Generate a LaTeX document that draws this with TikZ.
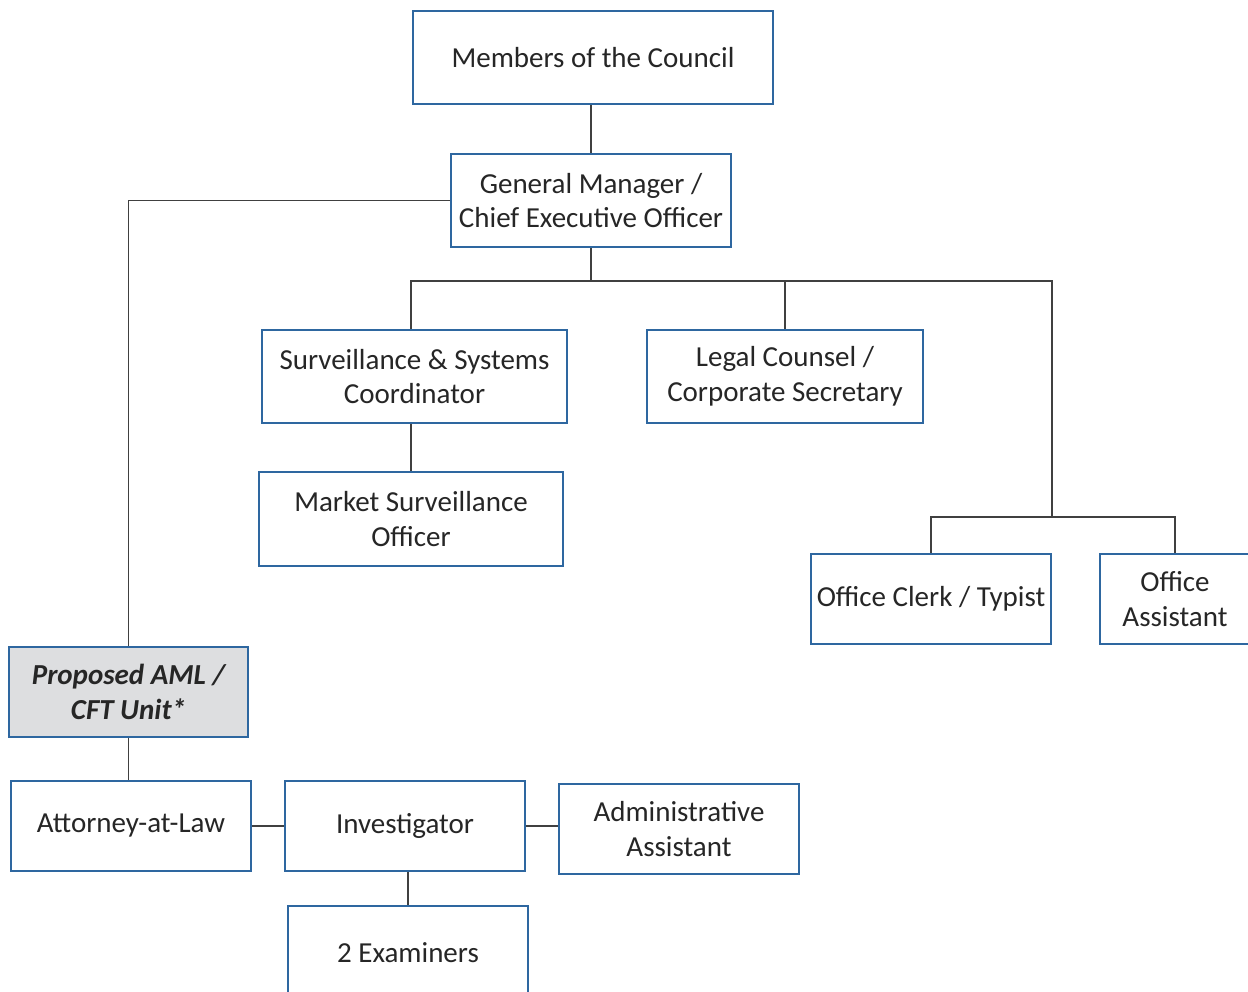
\documentclass[tikz,border=0pt]{standalone}
\usepackage{fontspec}
\setmainfont{Carlito}
\usepackage{xcolor}
\usepackage{tikz}
\usetikzlibrary{positioning}
\definecolor{boxblue}{RGB}{46,103,160}
\definecolor{linkgray}{RGB}{64,64,64}
\definecolor{unitgray}{RGB}{221,222,224}
\tikzset{
  box/.style={draw=boxblue, line width=1.4pt, fill=white, align=center,
    font=\fontsize{16.5}{19.8}\selectfont, text=black!85, inner sep=2pt},
  unit/.style={box, fill=unitgray, font=\fontsize{16.5}{19.8}\selectfont\bfseries\itshape},
  link/.style={draw=linkgray, line width=0.8pt},
}
\begin{document}
\begin{tikzpicture}[x=0.02cm, y=-0.02cm]
      \useasboundingbox (0,0) rectangle (1248,991);
      % top of the chart
      \node[box, minimum width=7.2cm, minimum height=1.86cm] (mc) at (593,57.5) {Members of the Council};
      \node[box, minimum width=5.6cm, minimum height=1.86cm] (gm) at (591,200.5) {General Manager /\\Chief Executive Officer};
      \node[box, minimum width=6.1cm, minimum height=1.86cm] (ssc) at (414.5,376.5) {Surveillance \& Systems\\Coordinator};
      \node[box, minimum width=5.52cm, minimum height=1.86cm] (lcs) at (785,376.5) {Legal Counsel /\\Corporate Secretary};
      \node[box, minimum width=6.08cm, minimum height=1.88cm] (mso) at (411,519) {Market Surveillance\\Officer};
      \node[box, minimum width=4.8cm, minimum height=1.8cm] (clerk) at (931,599) {Office Clerk / Typist};
      \node[box, minimum width=3cm, minimum height=1.8cm] (oa) at (1175,599) {Office\\Assistant};
      % AML / CFT unit
      \node[unit, minimum width=4.78cm, minimum height=1.8cm] (aml) at (128.5,692) {Proposed AML /\\CFT Unit*};
      \node[box, minimum width=4.8cm, minimum height=1.8cm] (att) at (131,826) {Attorney-at-Law};
      \node[box, minimum width=4.8cm, minimum height=1.8cm] (inv) at (405,826) {Investigator};
      \node[box, minimum width=4.8cm, minimum height=1.8cm] (adm) at (679,829) {Administrative\\Assistant};
      \node[box, minimum width=4.8cm, minimum height=1.88cm] (exa) at (408,953) {2 Examiners};

      \coordinate (bus) at (591,281);
      \coordinate (sbus) at (1052,517);
      \draw[link] (gm.north |- mc.south) -- (gm.north);
      \draw[link] (gm.west) -| (aml.north);
      \draw[link] (gm.south) -- (bus);
      \draw[link] (mso.north |- ssc.north) |- (bus) -| (sbus);
      \draw[link] (lcs.north) -- (lcs.north |- bus);
      \draw[link] (clerk.north) |- (sbus) -| (oa.north);
      \draw[link] (mso.north |- ssc.south) -- (mso.north);
      \draw[link] (aml.south) -- (aml.south |- att.north);
      \draw[link] (att.east) -- (inv.west);
      \draw[link] (inv.east) -- (inv.east -| adm.west);
      \draw[link] (exa.north |- inv.south) -- (exa.north);
    \end{tikzpicture}
\end{document}
